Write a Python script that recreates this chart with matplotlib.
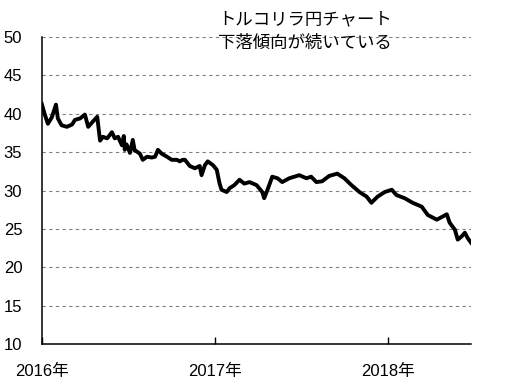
import matplotlib
matplotlib.use("Agg")
import matplotlib.pyplot as plt
import numpy as np

# トルコリラ円の終値（チャートから読み取った値）
dates = [
    "2016-01-01", "2016-01-08", "2016-01-14", "2016-01-22", "2016-01-31", "2016-02-04",
    "2016-02-12", "2016-02-23", "2016-03-05", "2016-03-11", "2016-03-22", "2016-04-01",
    "2016-04-08", "2016-04-18", "2016-04-27", "2016-05-03", "2016-05-09", "2016-05-18",
    "2016-05-28", "2016-06-03", "2016-06-10", "2016-06-18", "2016-06-22", "2016-06-24",
    "2016-06-28", "2016-07-05", "2016-07-11", "2016-07-15", "2016-07-19", "2016-07-26",
    "2016-08-01", "2016-08-10", "2016-08-20", "2016-08-27", "2016-09-02", "2016-09-10",
    "2016-09-21", "2016-10-01", "2016-10-12", "2016-10-18", "2016-10-24", "2016-10-29",
    "2016-11-08", "2016-11-19", "2016-11-29", "2016-12-03", "2016-12-10", "2016-12-16",
    "2016-12-27", "2017-01-04", "2017-01-10", "2017-01-14", "2017-01-25", "2017-01-31",
    "2017-02-10", "2017-02-21", "2017-03-03", "2017-03-14", "2017-03-29", "2017-04-10",
    "2017-04-14", "2017-04-21", "2017-05-01", "2017-05-12", "2017-05-22", "2017-06-06",
    "2017-06-27", "2017-07-12", "2017-07-22", "2017-08-02", "2017-08-14", "2017-08-29",
    "2017-09-15", "2017-09-30", "2017-10-15", "2017-11-01", "2017-11-16", "2017-11-26",
    "2017-12-09", "2017-12-24", "2018-01-08", "2018-01-18", "2018-02-04", "2018-02-21",
    "2018-03-12", "2018-03-25", "2018-04-13", "2018-04-25", "2018-05-04", "2018-05-10",
    "2018-05-21", "2018-05-27", "2018-06-04", "2018-06-11", "2018-06-17", "2018-06-24",
]
rates = [
    41.3, 39.8, 38.7, 39.5, 41.2, 39.4,
    38.5, 38.3, 38.6, 39.2, 39.4, 39.9,
    38.3, 39.0, 39.6, 36.5, 37.0, 36.8,
    37.6, 36.8, 37.0, 35.9, 37.1, 35.3,
    36.0, 34.9, 36.6, 35.2, 35.1, 34.8,
    34.0, 34.4, 34.3, 34.4, 35.3, 34.8,
    34.4, 34.0, 34.0, 33.8, 34.0, 34.0,
    33.2, 32.9, 33.2, 32.0, 33.3, 33.8,
    33.3, 32.7, 30.9, 30.1, 29.8, 30.3,
    30.7, 31.4, 30.9, 31.1, 30.7, 29.8,
    29.0, 30.1, 31.8, 31.6, 31.1, 31.6,
    32.0, 31.6, 31.8, 31.1, 31.2, 31.9,
    32.2, 31.6, 30.7, 29.8, 29.2, 28.4,
    29.2, 29.8, 30.1, 29.4, 29.0, 28.4,
    27.9, 26.8, 26.2, 26.6, 26.9, 25.8,
    24.9, 23.6, 24.0, 24.5, 23.8, 23.2,
]
year_ticks = ["2016-01-01", "2017-01-01", "2018-01-01"]
year_labels = ["2016年", "2017年", "2018年"]
y_ticks = [10, 15, 20, 25, 30, 35, 40, 45, 50]

plt.rcParams['font.family'] = ['Liberation Sans', 'Noto Sans CJK JP']

x = np.array(dates, dtype="datetime64[D]")

fig = plt.figure(figsize=(5.07, 3.90), dpi=100)
ax = fig.add_axes([0.0823, 0.118, 0.8467, 0.787])

# 目盛り線（破線）
for v in y_ticks[1:]:
    ax.axhline(v, color="#808080", lw=0.8, ls=(0, (3, 3)), zorder=1)

ax.plot(x, rates, color="black", lw=2.8, zorder=3)

ax.set_xlim(np.datetime64("2016-01-01"), x[-1])
ax.set_ylim(10, 50)
ax.set_yticks(y_ticks)
ax.set_xticks(np.array(year_ticks, dtype="datetime64[D]"))
ax.set_xticklabels(year_labels)
ax.tick_params(axis="y", length=0, pad=14, labelsize=12)
ax.tick_params(axis="x", direction="in", length=5, width=1, pad=14, labelsize=12)

for s in ["top", "right"]:
    ax.spines[s].set_visible(False)
for s in ["left", "bottom"]:
    ax.spines[s].set_linewidth(1.1)

fig.text(0.602, 0.949, "トルコリラ円チャート", ha="center", va="center",
         fontsize=12.5, family=["Noto Sans CJK JP"])
fig.text(0.602, 0.889, "下落傾向が続いている", ha="center", va="center",
         fontsize=12.5, family=["Noto Sans CJK JP"])

plt.savefig("out.png", dpi=100)
